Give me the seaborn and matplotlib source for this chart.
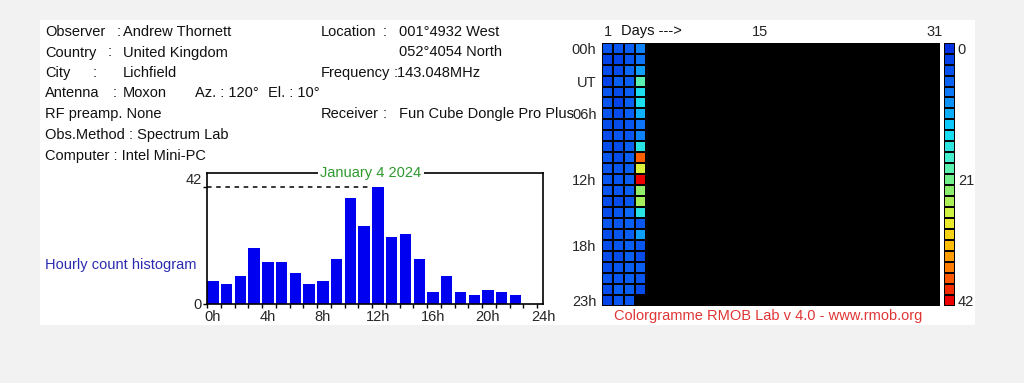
import numpy as np
import pandas as pd
import matplotlib
matplotlib.use("Agg")
import matplotlib.pyplot as plt
import seaborn as sns
from matplotlib.colors import LinearSegmentedColormap
from matplotlib.patches import Rectangle
from matplotlib.ticker import FixedLocator

# ---------------- data ----------------
hours = list(range(24))
# hourly counts for January 4 2024 (hour 23: no data)
jan4_counts = [8, 7, 10, 20, 15, 15, 11, 7, 8, 16, 38, 28,
               42, 24, 25, 16, 4, 10, 4, 3, 5, 4, 3, np.nan]
jan1_counts = [4, 2, 3, 2, 4, 4, 4, 3, 3, 3, 4, 4, 4, 4, 3, 3, 4, 3, 3, 3, 3, 4, 3, 2]
jan2_counts = [4, 2, 3, 5, 3, 2, 3, 3, 4, 3, 3, 4, 4, 4, 3, 4, 4, 4, 4, 3, 4, 4, 5, 4]
jan3_counts = [5, 4, 6, 5, 5, 5, 5, 4, 4, 5, 5, 5, 5, 5, 4, 6, 5, 5, 5, 5, 5, 5, 5, 4]
days = list(range(1, 32))
scale_max = 42
scale_labels = ["0", "21", "42"]
hour_tick_labels = ["0h", "4h", "8h", "12h", "16h", "20h", "24h"]
hour_tick_values = [0, 4, 8, 12, 16, 20, 24]
row_labels = ["00h", "UT", "06h", "12h", "18h", "23h"]
row_label_rows = [0, 3, 6, 12, 18, 23]
day_labels = ["1", "15", "31"]
day_label_values = [1, 15, 31]
hist_title = "January 4 2024"

header_left = [
    ["Observer", ":", "Andrew Thornett"],
    ["Country", ":", "United Kingdom"],
    ["City", ":", "Lichfield"],
    ["Antenna", ":", "Moxon", "Az. : 120°", "El. : 10°"],
    ["RF preamp. None"],
    ["Obs.Method : Spectrum Lab"],
    ["Computer : Intel Mini-PC"],
]
header_right = [
    ["Location", ":", "001°4932 West"],
    ["052°4054 North"],
    ["Frequency", ":143.048MHz"],
    ["Receiver", ":", "Fun Cube Dongle Pro Plus"],
]

# ---------------- layout helpers ----------------
W, H = 1024, 383
def fx(x): return x / W
def fy(y): return 1 - y / H

sns.set_style("white")
plt.rcParams['font.family'] = ['Liberation Sans', 'DejaVu Sans']
FS = 10.5

fig = plt.figure(figsize=(W / 100, H / 100), dpi=100, facecolor='#f2f2f2')
fig.patches.append(Rectangle((fx(40), fy(325)), fx(975) - fx(40), fy(20) - fy(325),
                             transform=fig.transFigure, facecolor='white',
                             edgecolor='none', zorder=-10))

# header text
left_x = [
    [45, 117, 123],
    [45, 108, 123],
    [45, 93, 123],
    [45, 113, 123, 195, 268],
    [45], [45], [45],
]
left_y = [32, 52.5, 72.7, 93.3, 114.3, 135, 155.7]
for parts, xs, y in zip(header_left, left_x, left_y):
    for s, x in zip(parts, xs):
        fig.text(fx(x), fy(y), s, fontsize=FS, ha='left', va='center', color='#111111')

right_x = [[321, 383, 399], [399], [321, 394], [321, 383, 399]]
right_y = [32, 52.5, 72.7, 114.3]
for parts, xs, y in zip(header_right, right_x, right_y):
    for s, x in zip(parts, xs):
        fig.text(fx(x), fy(y), s, fontsize=FS, ha='left', va='center', color='#111111',
                 zorder=-1)

fig.text(fx(45), fy(265), "Hourly count histogram", fontsize=FS, ha='left', va='center',
         color='#2b2bb0')

# ---------------- histogram ----------------
axh = fig.add_axes([fx(207), fy(303.5), fx(543) - fx(207), fy(173.3) - fy(303.5)])
off = 0.43
hist_df = pd.DataFrame({"hour": hours, "count": jan4_counts})
sns.barplot(data=hist_df, x="hour", y="count", native_scale=True, color='#0000f0',
            saturation=1, width=0.83, errorbar=None, ax=axh, edgecolor='none')
axh.set_xlim(-off, 24 - off)
axh.set_ylim(0, 47.1)
axh.set_xlabel("")
axh.set_ylabel("")
for sp in axh.spines.values():
    sp.set_visible(True)
    sp.set_color('black')
    sp.set_linewidth(1.2)
axh.set_xticks(hour_tick_values)
axh.set_xticklabels(hour_tick_labels, fontsize=FS)
axh.xaxis.set_minor_locator(FixedLocator(np.array(hours + [24]) - off))
axh.tick_params(axis='x', which='major', bottom=True, length=0, pad=4.5)
axh.tick_params(axis='x', which='minor', bottom=True, length=3, width=1,
                color='black', direction='out')
axh.set_yticks([0, scale_max])
axh.set_yticklabels(["0", str(scale_max)], fontsize=FS)
axh.get_yticklabels()[1].set_va('bottom')
axh.tick_params(axis='y', left=True, length=3, width=1, pad=1, color='black')
imax = int(np.nanargmax(jan4_counts))
axh.plot([-off, imax - 0.415], [np.nanmax(jan4_counts)] * 2, ls=(0, (3, 3)),
         color='black', lw=1.1)
axh.text(0.488, 1.0, hist_title, transform=axh.transAxes, ha='center', va='center',
         fontsize=FS, color='#2e9a2e', zorder=10, clip_on=False,
         bbox=dict(facecolor='white', edgecolor='none', pad=1.5))

# ---------------- colorgramme ----------------
cmap = LinearSegmentedColormap.from_list("rmob", [
    (0.00, (0.00, 0.19, 0.88)),
    (0.15, (0.05, 0.42, 0.97)),
    (0.33, (0.05, 0.85, 0.98)),
    (0.45, (0.30, 0.95, 0.78)),
    (0.55, (0.50, 0.93, 0.45)),
    (0.68, (0.90, 0.95, 0.20)),
    (0.78, (1.00, 0.75, 0.00)),
    (0.90, (1.00, 0.40, 0.00)),
    (1.00, (0.93, 0.00, 0.00)),
])

grid = pd.DataFrame(np.nan, index=hours, columns=days)
grid[1] = jan1_counts
grid[2] = jan2_counts
grid[3] = jan3_counts
grid[4] = jan4_counts

axc = fig.add_axes([fx(602), fy(305.7), fx(940) - fx(602), fy(42.7) - fy(305.7)])
sns.heatmap(grid, ax=axc, cmap=cmap, vmin=0, vmax=scale_max, cbar=False,
            linewidths=1.2, linecolor='black', xticklabels=False, yticklabels=False)
axc.set_facecolor('black')
axc.set_xlabel("")
axc.set_ylabel("")
axc.xaxis.tick_top()
axc.set_xticks([d - 0.5 for d in day_label_values])
axc.set_xticklabels(day_labels, fontsize=FS)
axc.set_yticks([r + 0.5 for r in row_label_rows])
axc.set_yticklabels(row_labels, fontsize=FS)
axc.tick_params(axis='both', length=0, pad=4)
axc.tick_params(axis='x', pad=3)
fig.text(fx(621), fy(31), "Days --->", fontsize=FS, ha='left', va='center', color='#111111')

# colour scale
axb = fig.add_axes([fx(944), fy(305.7), fx(955) - fx(944), fy(42.7) - fy(305.7)])
levels = pd.DataFrame({"v": np.linspace(0, scale_max, 24)})
sns.heatmap(levels, ax=axb, cmap=cmap, vmin=0, vmax=scale_max, cbar=False,
            linewidths=1.2, linecolor='black', xticklabels=False, yticklabels=False)
axb.set_xlabel("")
axb.set_ylabel("")
axb.yaxis.tick_right()
axb.set_yticks([0.5, 12.5, 23.5])
axb.set_yticklabels(scale_labels, fontsize=FS)
axb.tick_params(axis='y', length=0, pad=2)

fig.text(fx(768), fy(316), "Colorgramme RMOB Lab v 4.0 - www.rmob.org", fontsize=FS,
         ha='center', va='center', color='#e03535')

fig.savefig("out.png", dpi=100, facecolor=fig.get_facecolor())
